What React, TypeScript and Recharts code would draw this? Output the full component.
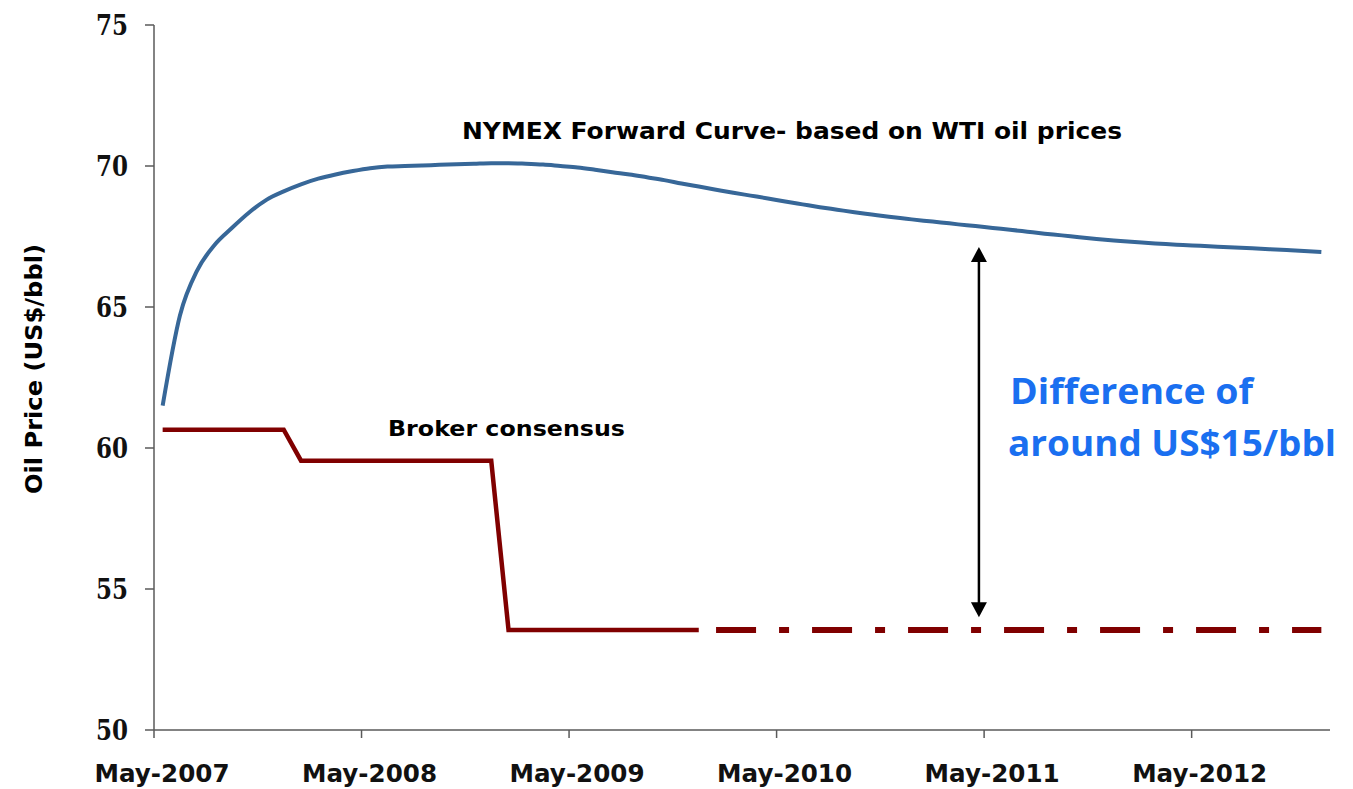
import { LineChart, Line, XAxis, YAxis, ReferenceLine } from 'recharts';

// months since May-2007 (point sits mid-month)
const monthCount = 68;
const tickMonths = [0, 12, 24, 36, 48, 60];
const tickLabels = ['May-2007', 'May-2008', 'May-2009', 'May-2010', 'May-2011', 'May-2012'];
const priceTicks = [50, 55, 60, 65, 70, 75];

// NYMEX forward curve, monthly May-2007 .. Dec-2012
const nymex = [
  61.5, 64.7, 66.3, 67.2, 67.8, 68.35, 68.8, 69.1, 69.35, 69.55,
  69.7, 69.82, 69.92, 69.98, 70.0, 70.02, 70.04, 70.06, 70.08, 70.1,
  70.1, 70.08, 70.05, 70.0, 69.95, 69.87, 69.78, 69.7, 69.6, 69.5,
  69.38, 69.27, 69.16, 69.05, 68.95, 68.85, 68.74, 68.64, 68.54, 68.45,
  68.36, 68.28, 68.2, 68.13, 68.06, 68.0, 67.93, 67.87, 67.8, 67.74,
  67.67, 67.6, 67.54, 67.47, 67.41, 67.36, 67.31, 67.27, 67.23, 67.2,
  67.17, 67.14, 67.11, 67.08, 67.05, 67.02, 66.99, 66.95,
];

// broker consensus, same months
const broker = [
  60.65, 60.65, 60.65, 60.65, 60.65, 60.65, 60.65, 60.65,
  59.55, 59.55, 59.55, 59.55, 59.55, 59.55, 59.55, 59.55, 59.55, 59.55, 59.55, 59.55,
  53.55, 53.55, 53.55, 53.55, 53.55, 53.55, 53.55, 53.55, 53.55, 53.55,
  53.55, 53.55, 53.55, 53.55, 53.55, 53.55, 53.55, 53.55, 53.55, 53.55,
  53.55, 53.55, 53.55, 53.55, 53.55, 53.55, 53.55, 53.55, 53.55, 53.55,
  53.55, 53.55, 53.55, 53.55, 53.55, 53.55, 53.55, 53.55, 53.55, 53.55,
  53.55, 53.55, 53.55, 53.55, 53.55, 53.55, 53.55, 53.55,
];
const lastSolidMonth = 31;

// difference arrow (month position, low/high price)
const arrowMonth = 47.7;
const arrowLow = 54.0;
const arrowHigh = 67.13;

const data = nymex.map((v, i) => ({
  m: i + 0.5,
  nymex: v,
  brokerSolid: i <= lastSolidMonth ? broker[i] : null,
  brokerDash: i > lastSolidMonth ? broker[i] : null,
}));

const AXIS = '#5a5a5a';

function XTick({ x, y, payload }: any) {
  const idx = tickMonths.indexOf(payload.value);
  return (
    <text x={x + 8} y={y + 42} textAnchor="middle" fontFamily="DejaVu Sans" fontWeight="bold"
      fontSize={24} fill="#111" textLength={135} lengthAdjust="spacingAndGlyphs">
      {tickLabels[idx]}
    </text>
  );
}

function YTick({ x, y, payload }: any) {
  return (
    <text x={x - 15} y={y} dy="0.36em" textAnchor="end" fontFamily="DejaVu Serif" fontWeight="bold"
      fontSize={27} fill="#111" textLength={32} lengthAdjust="spacingAndGlyphs">
      {payload.value}
    </text>
  );
}

function Arrow(p: any) {
  const { x1, y1, x2, y2 } = p;
  const top = Math.min(y1, y2);
  const bot = Math.max(y1, y2);
  const h = 15, w = 8;
  return (
    <g>
      <line x1={x1} x2={x2} y1={top + h - 2} y2={bot - h + 2} stroke="#000" strokeWidth={2.5} />
      <polygon points={`${x1},${top} ${x1 - w},${top + h} ${x1 + w},${top + h}`} fill="#000" />
      <polygon points={`${x1},${bot} ${x1 - w},${bot - h} ${x1 + w},${bot - h}`} fill="#000" />
    </g>
  );
}

export default function App() {
  return (
    <div style={{ position: 'absolute', left: 0, top: 0, width: 1353, height: 789, background: '#fff' }}>
      <LineChart width={1353} height={789} data={data}
        margin={{ top: 25, right: 23, left: 0, bottom: 0 }}>
        <XAxis dataKey="m" type="number" domain={[0, monthCount]} ticks={tickMonths}
          allowDecimals={false} height={59} tickSize={8}
          axisLine={{ stroke: AXIS, strokeWidth: 1.5 }} tickLine={{ stroke: AXIS, strokeWidth: 1.5 }}
          tick={<XTick />} interval={0} />
        <YAxis type="number" domain={[50, 75]} ticks={priceTicks} width={154} tickSize={9}
          axisLine={{ stroke: AXIS, strokeWidth: 1.5 }} tickLine={{ stroke: AXIS, strokeWidth: 1.5 }}
          tick={<YTick />} interval={0} />
        <Line type="monotone" dataKey="nymex" stroke="#376798" strokeWidth={4}
          dot={false} isAnimationActive={false} />
        <Line type="linear" dataKey="brokerSolid" stroke="#800000" strokeWidth={4.5}
          dot={false} isAnimationActive={false} connectNulls={false} />
        <Line type="linear" dataKey="brokerDash" stroke="#800000" strokeWidth={6}
          strokeDasharray="40 23 10 23" strokeLinecap="butt"
          dot={false} isAnimationActive={false} connectNulls={false} />
        <ReferenceLine segment={[{ x: arrowMonth, y: arrowLow }, { x: arrowMonth, y: arrowHigh }]}
          shape={<Arrow />} ifOverflow="visible" />
      </LineChart>
      <svg width={1353} height={789} style={{ position: 'absolute', left: 0, top: 0, pointerEvents: 'none' }}>
        <text x={462} y={139} fontFamily="DejaVu Sans" fontWeight="bold" fontSize={23} fill="#000"
          textLength={660} lengthAdjust="spacingAndGlyphs">
          NYMEX Forward Curve- based on WTI oil prices
        </text>
        <text x={388} y={436} fontFamily="DejaVu Sans" fontWeight="bold" fontSize={22} fill="#000"
          textLength={237} lengthAdjust="spacingAndGlyphs">
          Broker consensus
        </text>
        <text x={1010} y={404} fontFamily="Open Sans" fontWeight={700} fontSize={36} fill="#1a6ff0"
          textLength={243} lengthAdjust="spacingAndGlyphs">
          Difference of
        </text>
        <text x={1008} y={456} fontFamily="Open Sans" fontWeight={700} fontSize={36} fill="#1a6ff0"
          textLength={328} lengthAdjust="spacingAndGlyphs">
          around US$15/bbl
        </text>
        <text transform="translate(42, 369) rotate(-90)" textAnchor="middle" fontFamily="DejaVu Sans"
          fontWeight="bold" fontSize={23} fill="#000" textLength={250} lengthAdjust="spacingAndGlyphs">
          Oil Price (US$/bbl)
        </text>
      </svg>
    </div>
  );
}
